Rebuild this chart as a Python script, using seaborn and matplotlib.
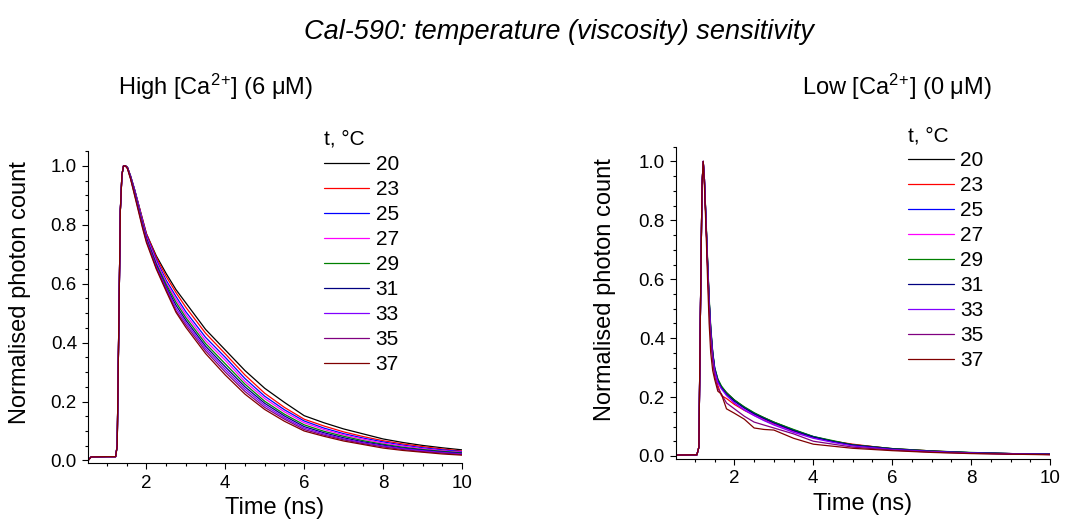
import numpy as np
import pandas as pd
import seaborn as sns
from matplotlib import pyplot as plt
from matplotlib.ticker import MultipleLocator

temps = ['20', '23', '25', '27', '29', '31', '33', '35', '37']
colors = ['#000000', '#ff0000', '#0000ff', '#ff00ff', '#008000',
          '#000080', '#8000ff', '#800080', '#800000']

# High [Ca2+]: shared rise, then one decay per temperature
high_rise_t = [0.52, 0.6, 1.0, 1.22, 1.26, 1.3, 1.34, 1.38, 1.42, 1.47]
high_rise_y = [0.0, 0.012, 0.013, 0.013, 0.05, 0.45, 0.85, 0.97, 1.0, 1.0]
high_decay_t = [1.52, 1.6, 1.7, 1.8, 1.9, 2.0, 2.25, 2.5, 2.75, 3.0, 3.5, 4.0,
                4.5, 5.0, 5.5, 6.0, 6.5, 7.0, 7.5, 8.0, 8.5, 9.0, 9.5, 10.0]
high_20 = [0.995, 0.965, 0.92, 0.87, 0.82, 0.77, 0.695, 0.635, 0.58, 0.535, 0.445, 0.375,
           0.305, 0.245, 0.197, 0.152, 0.128, 0.107, 0.09, 0.073, 0.061, 0.051, 0.043, 0.036]
high_23 = [0.995, 0.965, 0.92, 0.87, 0.82, 0.77, 0.69, 0.625, 0.57, 0.52, 0.432, 0.362,
           0.29, 0.228, 0.18, 0.14, 0.117, 0.097, 0.081, 0.067, 0.056, 0.047, 0.039, 0.032]
high_25 = [0.995, 0.966, 0.92, 0.868, 0.815, 0.765, 0.682, 0.612, 0.557, 0.505, 0.418, 0.35,
           0.278, 0.218, 0.172, 0.134, 0.11, 0.091, 0.076, 0.063, 0.052, 0.043, 0.036, 0.03]
high_27 = [0.995, 0.963, 0.915, 0.865, 0.81, 0.76, 0.675, 0.605, 0.547, 0.495, 0.407, 0.34,
           0.268, 0.21, 0.165, 0.128, 0.105, 0.087, 0.072, 0.059, 0.049, 0.04, 0.033, 0.028]
high_29 = [0.995, 0.962, 0.912, 0.86, 0.805, 0.755, 0.668, 0.598, 0.537, 0.485, 0.397, 0.328,
           0.259, 0.201, 0.157, 0.121, 0.099, 0.082, 0.067, 0.055, 0.045, 0.037, 0.031, 0.026]
high_31 = [0.994, 0.96, 0.91, 0.857, 0.802, 0.752, 0.663, 0.59, 0.527, 0.476, 0.388, 0.318,
           0.25, 0.194, 0.151, 0.115, 0.094, 0.077, 0.063, 0.052, 0.042, 0.035, 0.029, 0.024]
high_33 = [0.993, 0.958, 0.907, 0.853, 0.798, 0.748, 0.658, 0.585, 0.517, 0.468, 0.38, 0.309,
           0.242, 0.187, 0.145, 0.11, 0.09, 0.073, 0.06, 0.049, 0.04, 0.033, 0.027, 0.022]
high_35 = [0.992, 0.957, 0.904, 0.85, 0.795, 0.745, 0.654, 0.58, 0.508, 0.46, 0.372, 0.3,
           0.234, 0.18, 0.14, 0.105, 0.086, 0.07, 0.057, 0.046, 0.037, 0.03, 0.025, 0.02]
high_37 = [0.99, 0.955, 0.9, 0.845, 0.79, 0.74, 0.65, 0.575, 0.503, 0.452, 0.363, 0.29,
           0.225, 0.173, 0.133, 0.1, 0.082, 0.066, 0.054, 0.042, 0.034, 0.028, 0.022, 0.018]

# Low [Ca2+]
low_rise_t = [0.52, 1.05, 1.1, 1.14, 1.18, 1.21]
low_rise_y = [0.003, 0.004, 0.03, 0.5, 0.92, 1.0]
low_decay_t = [1.24, 1.28, 1.32, 1.36, 1.4, 1.45, 1.5, 1.58, 1.67, 1.8, 2.0, 2.25,
               2.5, 2.75, 3.0, 3.5, 4.0, 4.5, 5.0, 6.0, 7.0, 8.0, 9.0, 10.0]
low_20 = [0.94, 0.8, 0.66, 0.53, 0.43, 0.35, 0.295, 0.255, 0.235, 0.215, 0.19, 0.165,
          0.145, 0.13, 0.115, 0.088, 0.065, 0.05, 0.038, 0.025, 0.017, 0.011, 0.008, 0.006]
low_23 = [0.94, 0.8, 0.65, 0.52, 0.42, 0.34, 0.285, 0.24, 0.205, 0.195, 0.175, 0.155,
          0.138, 0.122, 0.108, 0.085, 0.062, 0.05, 0.04, 0.024, 0.017, 0.01, 0.008, 0.006]
low_25 = [0.94, 0.8, 0.66, 0.53, 0.43, 0.35, 0.3, 0.26, 0.235, 0.212, 0.188, 0.165,
          0.145, 0.128, 0.112, 0.088, 0.066, 0.05, 0.037, 0.024, 0.016, 0.011, 0.008, 0.006]
low_27 = [0.94, 0.8, 0.65, 0.52, 0.42, 0.34, 0.29, 0.25, 0.23, 0.215, 0.18, 0.158,
          0.14, 0.125, 0.11, 0.082, 0.062, 0.048, 0.036, 0.023, 0.015, 0.01, 0.007, 0.005]
low_29 = [0.94, 0.81, 0.67, 0.54, 0.44, 0.355, 0.3, 0.262, 0.238, 0.215, 0.19, 0.167,
          0.147, 0.13, 0.115, 0.09, 0.066, 0.052, 0.038, 0.025, 0.017, 0.012, 0.008, 0.006]
low_31 = [0.94, 0.8, 0.66, 0.53, 0.43, 0.35, 0.295, 0.255, 0.232, 0.21, 0.186, 0.163,
          0.143, 0.127, 0.112, 0.086, 0.064, 0.049, 0.037, 0.024, 0.016, 0.011, 0.008, 0.006]
low_33 = [0.94, 0.8, 0.65, 0.52, 0.42, 0.34, 0.29, 0.25, 0.228, 0.205, 0.18, 0.156,
          0.137, 0.12, 0.105, 0.08, 0.06, 0.046, 0.034, 0.022, 0.015, 0.01, 0.007, 0.005]
low_35 = [0.93, 0.79, 0.64, 0.5, 0.4, 0.32, 0.27, 0.23, 0.21, 0.18, 0.16, 0.135,
          0.115, 0.105, 0.095, 0.075, 0.05, 0.04, 0.03, 0.02, 0.013, 0.009, 0.006, 0.005]
low_37 = [0.92, 0.77, 0.6, 0.45, 0.35, 0.29, 0.26, 0.22, 0.21, 0.16, 0.145, 0.125,
          0.095, 0.09, 0.088, 0.06, 0.04, 0.033, 0.026, 0.018, 0.012, 0.008, 0.006, 0.004]

high_decays = [high_20, high_23, high_25, high_27, high_29, high_31, high_33, high_35, high_37]
low_decays = [low_20, low_23, low_25, low_27, low_29, low_31, low_33, low_35, low_37]


def long_frame(rise_t, rise_y, decay_t, decays):
    rows = []
    for temp, decay in zip(temps, decays):
        for t, y in zip(rise_t + decay_t, rise_y + decay):
            rows.append((t, y, temp))
    return pd.DataFrame(rows, columns=['time', 'count', 'temp'])


sns.set_theme(style='ticks')
plt.rcParams['font.family'] = ['Liberation Sans', 'DejaVu Sans']
plt.rcParams['mathtext.default'] = 'regular'
for key in ('text.color', 'axes.labelcolor', 'xtick.color', 'ytick.color',
            'axes.edgecolor'):
    plt.rcParams[key] = 'black'

fig = plt.figure(figsize=(10.83, 5.30), dpi=100)
W, H = 1083, 530


def panel(left, bottom, df, title_x, title, ylab_xy, leg_xy):
    ax = fig.add_axes([left / W, (H - bottom) / H, 374 / W, 312.2 / H])
    sns.lineplot(data=df, x='time', y='count', hue='temp', hue_order=temps,
                 palette=colors, estimator=None, sort=False, linewidth=0.9,
                 legend=False, ax=ax)
    ax.set_xlim(0.52, 10)
    ax.set_ylim(-0.01, 1.05)
    ax.xaxis.set_major_locator(MultipleLocator(2))
    ax.xaxis.set_minor_locator(MultipleLocator(0.5))
    ax.yaxis.set_major_locator(MultipleLocator(0.2))
    ax.yaxis.set_minor_locator(MultipleLocator(0.05))
    ax.yaxis.set_major_formatter(plt.FuncFormatter(lambda v, p: '{:.1f}'.format(v)))
    sns.despine(ax=ax)
    for s in ('left', 'bottom'):
        ax.spines[s].set_linewidth(0.8)
    ax.tick_params(which='major', length=4.5, width=0.8, labelsize=13.5)
    ax.tick_params(which='minor', length=2.5, width=0.8)
    ax.set_xlabel('Time (ns)', fontsize=17, labelpad=4)
    ax.set_ylabel('Normalised photon count', fontsize=17)
    ax.yaxis.set_label_coords(*ylab_xy)
    ax.legend(ax.get_lines(), temps, title='t, °C', loc='upper left',
              bbox_to_anchor=leg_xy, frameon=False, fontsize=15,
              title_fontsize=15, handlelength=2.2, handletextpad=0.3,
              labelspacing=0.29, alignment='left', borderpad=0, borderaxespad=0)
    fig.text(title_x / W, 1 - 87 / H, title, fontsize=17, ha='center', va='center')
    return ax


high = long_frame(high_rise_t, high_rise_y, high_decay_t, high_decays)
low = long_frame(low_rise_t, low_rise_y, low_decay_t, low_decays)

panel(88, 463.4, high, 216, 'High [Ca$^{2}$$^{+}$] (6 μM)', (-0.152, 0.546), (0.63, 1.068))
panel(676, 458.9, low, 897, 'Low [Ca$^{2}$$^{+}$] (0 μM)', (-0.16, 0.541), (0.62, 1.066))

fig.text(559 / W, 1 - 32 / H, 'Cal-590: temperature (viscosity) sensitivity',
         fontsize=19.5, style='italic', ha='center', va='center')

fig.savefig('out.png', dpi=100)
